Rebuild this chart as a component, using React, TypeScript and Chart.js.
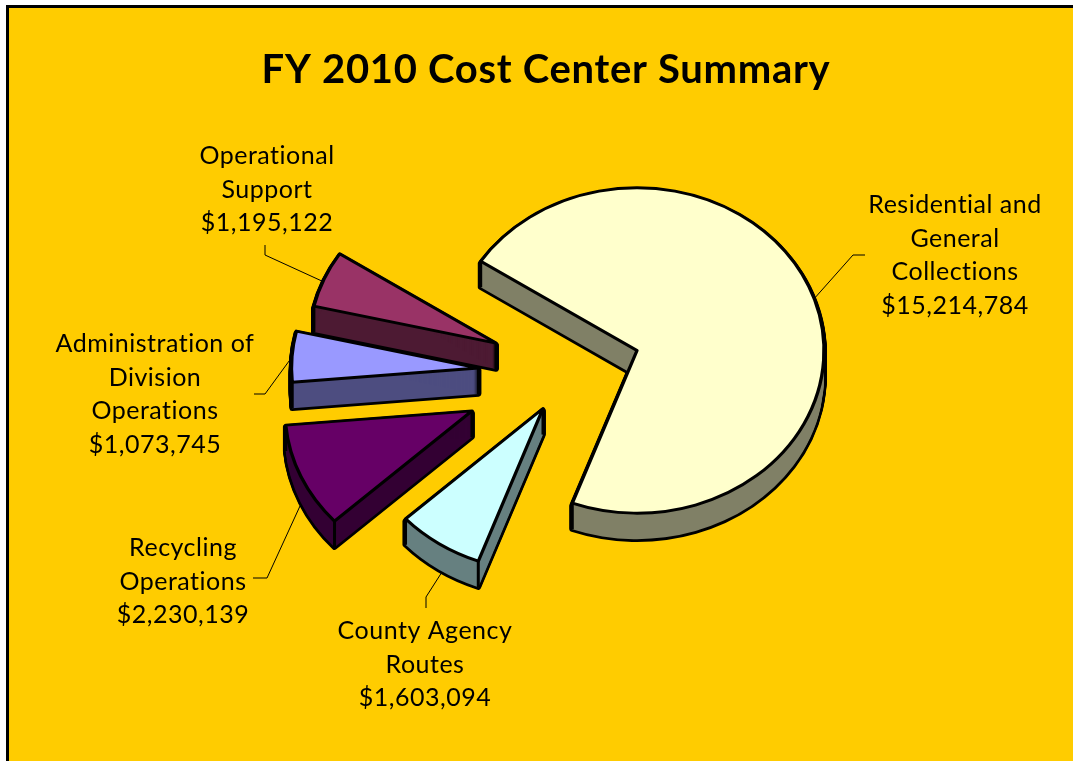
import React, { useEffect, useRef } from "react";
import { Chart, registerables } from "chart.js";

Chart.register(...registerables);

const chartTitle = "FY 2010 Cost Center Summary";
const categoryLines = [
  ["Residential and", "General", "Collections"],
  ["County Agency", "Routes"],
  ["Recycling", "Operations"],
  ["Administration of", "Division", "Operations"],
  ["Operational", "Support"],
];
const costs = [15214784, 1603094, 2230139, 1073745, 1195122];
const faceColors = ["#FFFFCC", "#CCFFFF", "#660066", "#9999FF", "#993366"];
const wallColors = ["#808066", "#668080", "#330033", "#4D4D80", "#4D1A33"];
const explodeX = [64, -30, -101, -94.5, -77];
const explodeY = [-22.4, 44.3, 47, -2.3, -31];

const FONT = "Lato, 'Open Sans', sans-serif";
const W = 1073;
const H = 761;
const CX = 573;
const CY = 370;
const TILT = 0.87;
const DEPTH = 26;
const RADIUS = 187;

const labelCenters = [
  { x: 955, y: 205 },
  { x: 425, y: 631 },
  { x: 183, y: 548 },
  { x: 155, y: 344 },
  { x: 267, y: 156 },
];
const leaders = [
  [[813, 300], [853, 255], [865, 255]],
  [[442, 572], [426, 597], [426, 608]],
  [[300, 506], [267, 578], [253, 578]],
  [[292, 357], [265, 394], [254, 394]],
  [[324, 282], [265, 255], [265, 245]],
];

const tilt = (ctx: CanvasRenderingContext2D) => {
  ctx.translate(CX, CY);
  ctx.scale(1, TILT);
  ctx.translate(-CX, -CY);
};

const slicePath = (ctx: CanvasRenderingContext2D, arc: any, d: number) => {
  ctx.save();
  ctx.translate(0, d);
  tilt(ctx);
  ctx.beginPath();
  ctx.arc(arc.x, arc.y, arc.outerRadius, arc.startAngle, arc.endAngle);
  ctx.lineTo(arc.x, arc.y);
  ctx.closePath();
  ctx.restore();
};

const cornerEdges = (ctx: CanvasRenderingContext2D, arc: any) => {
  const r = arc.outerRadius;
  const pts = [
    [arc.x, arc.y],
    [arc.x + Math.cos(arc.startAngle) * r, arc.y + Math.sin(arc.startAngle) * r],
    [arc.x + Math.cos(arc.endAngle) * r, arc.y + Math.sin(arc.endAngle) * r],
  ];
  ctx.beginPath();
  pts.forEach(([px, py]) => {
    const sy = CY + (py - CY) * TILT;
    ctx.moveTo(px, sy);
    ctx.lineTo(px, sy + DEPTH);
  });
  ctx.strokeStyle = "#000";
  ctx.lineWidth = 3;
  ctx.stroke();
};

const piePlugin = {
  id: "tiltedPie",
  afterLayout(chart: any) {
    const a = chart.chartArea;
    a.left = CX - 400;
    a.right = CX + 400;
    a.top = CY - 400;
    a.bottom = CY + 400;
    a.width = 800;
    a.height = 800;
  },
  afterDatasetsUpdate(chart: any) {
    // Pull each slice out of the pie.
    chart.getDatasetMeta(0).data.forEach((arc: any, i: number) => {
      arc.x += explodeX[i];
      arc.y += explodeY[i];
    });
  },
  beforeDraw(chart: any) {
    const ctx = chart.ctx;
    ctx.fillStyle = "#FFFFFF";
    ctx.fillRect(0, 0, W, H);
    ctx.fillStyle = "#000000";
    ctx.fillRect(6, 5, W - 6, H - 5);
    ctx.fillStyle = "#FFCC00";
    ctx.fillRect(9, 8, W - 9, H - 8);
    ctx.letterSpacing = "0.7px";
  },
  beforeDatasetsDraw(chart: any) {
    const ctx = chart.ctx;
    ctx.letterSpacing = "0px";
    const arcs = chart.getDatasetMeta(0).data;
    ctx.lineJoin = "round";
    [0, 4, 3, 2, 1].forEach((i) => {
      const arc = arcs[i];
      ctx.strokeStyle = "#000";
      ctx.lineWidth = 5.6;
      for (let d = 2; d <= DEPTH; d++) {
        slicePath(ctx, arc, d);
        ctx.stroke();
      }
      ctx.fillStyle = wallColors[i];
      for (let d = 0; d <= DEPTH; d++) {
        slicePath(ctx, arc, d);
        ctx.fill();
      }
      cornerEdges(ctx, arc);
    });
    ctx.save();
    tilt(ctx);
  },
  afterDatasetsDraw(chart: any) {
    const ctx = chart.ctx;
    ctx.restore();
    ctx.strokeStyle = "#000";
    ctx.lineWidth = 1;
    leaders.forEach((pts) => {
      ctx.beginPath();
      pts.forEach(([x, y], k) => (k ? ctx.lineTo(x, y) : ctx.moveTo(x, y)));
      ctx.stroke();
    });
    ctx.fillStyle = "#000";
    ctx.font = `25px ${FONT}`;
    ctx.textAlign = "center";
    ctx.textBaseline = "middle";
    ctx.letterSpacing = "0.5px";
    categoryLines.forEach((lines, i) => {
      const all = [...lines, "$" + costs[i].toLocaleString("en-US")];
      all.forEach((t, k) => ctx.fillText(t, labelCenters[i].x, labelCenters[i].y + k * 33.5));
    });
    ctx.letterSpacing = "0px";
  },
};

export default function App() {
  const ref = useRef<HTMLCanvasElement>(null);
  useEffect(() => {
    const chart = new Chart(ref.current as HTMLCanvasElement, {
      type: "pie",
      data: {
        labels: categoryLines.map((l) => l.join(" ")),
        datasets: [
          {
            data: costs,
            backgroundColor: faceColors,
            borderColor: "#000000",
            borderWidth: 3.3,
            borderJoinStyle: "round",
            clip: false,
            radius: RADIUS,
          } as any,
        ],
      },
      options: {
        animation: false,
        responsive: false,
        rotation: -56.7,
        layout: { padding: { left: 19, right: 0, top: 46, bottom: 0 } },
        plugins: {
          legend: { display: false },
          tooltip: { enabled: false },
          title: {
            display: true,
            text: chartTitle,
            color: "#000000",
            font: { family: FONT, size: 40, weight: "bold" },
            padding: { top: 0, bottom: 0 },
          },
        },
      } as any,
      plugins: [piePlugin],
    });
    return () => chart.destroy();
  }, []);
  return (
    <canvas
      ref={ref}
      width={W}
      height={H}
      style={{ position: "fixed", left: 0, top: 0, width: W, height: H, display: "block" }}
    />
  );
}
